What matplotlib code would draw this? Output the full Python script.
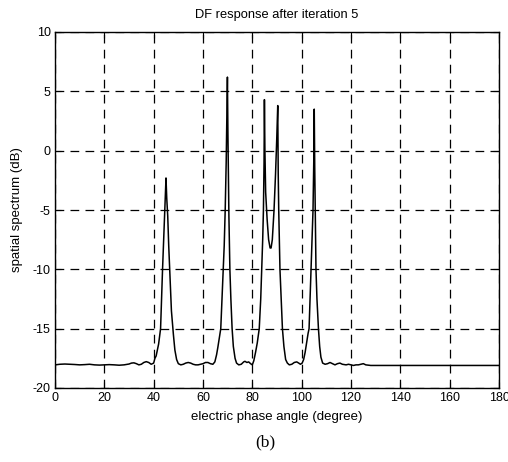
import matplotlib
matplotlib.use("Agg")
import matplotlib.pyplot as plt

plt.rcParams['font.family'] = ['Liberation Sans', 'DejaVu Sans']
plt.rcParams['axes.unicode_minus'] = False

title = "DF response after iteration 5"
xlabel = "electric phase angle (degree)"
ylabel = "spatial spectrum (dB)"
caption = "(b)"
xticks = [0, 20, 40, 60, 80, 100, 120, 140, 160, 180]
yticks = [-20, -15, -10, -5, 0, 5, 10]

angle = [0, 2, 4, 6, 8, 10, 12, 14, 16, 18, 20, 22, 24, 26, 28, 30, 31, 32, 33, 34,
         35, 36, 37, 38, 39, 40, 40.5, 41, 42, 42.8, 43.2, 43.6, 44.0, 44.5, 45.0,
         45.3, 45.7, 46.1, 46.6, 47.2, 48.0, 48.6, 49.3, 50.0, 51, 52, 53, 54, 55,
         56, 57, 58, 59, 60, 61, 62, 63, 64, 64.8, 65.5, 66.0, 66.6, 67.2, 67.7,
         68.2, 68.6, 69.0, 69.4, 69.9, 70.1, 70.3, 70.5, 70.9, 71.3, 71.8, 72.3,
         73.0, 73.6, 74.5, 75.5, 76.5, 77.0, 77.8, 78.5, 79.3, 80.0, 80.6, 81.3,
         82.0, 82.8, 83.4, 83.8, 84.2, 84.5, 84.75, 84.9, 85.1, 85.4, 85.6, 86.0,
         86.6, 87.2, 87.6, 88.1, 88.8, 89.4, 89.9, 90.3, 90.5, 90.7, 91.2, 91.7,
         92.2, 92.8, 93.5, 94.2, 95, 96, 97, 98, 98.8, 99.5, 100.2, 100.8, 101.4,
         102.0, 102.6, 103.0, 103.4, 103.8, 104.2, 104.6, 104.9, 105.1, 105.3,
         105.5, 105.8, 106.2, 106.8, 107.3, 107.8, 108.5, 109.5, 110.5, 111.5,
         112.5, 113.5, 114.5, 115.5, 116.5, 118, 119, 120, 121, 122, 123, 124, 125,
         126, 128, 130, 135, 140, 145, 150, 155, 160, 165, 170, 175, 180]
spectrum = [-18.05, -18.0, -17.98, -18.0, -18.02, -18.05, -18.03, -18.0, -18.05, -18.07,
            -18.05, -18.03, -18.05, -18.08, -18.05, -17.98, -17.9, -17.88, -17.95, -18.05,
            -18.0, -17.85, -17.78, -17.85, -18.0, -17.9, -17.5, -17.3, -16.3, -15.0, -12.5,
            -10.0, -7.8, -5.0, -2.3,
            -4.0, -5.5, -8.0, -10.5, -13.5, -15.5, -16.8, -17.6, -17.95, -18.05, -18.0,
            -17.9, -17.85, -17.9,
            -18.0, -18.05, -18.05, -18.0, -17.95, -17.85, -17.85, -17.95, -18.0, -17.8,
            -17.2, -16.6, -15.8, -15.0, -12.5,
            -10.0, -8.0, -5.0, -1.0, 6.2, 1.5, -2.0, -5.5, -10.0, -12.5, -15.0, -16.5,
            -17.5, -17.9, -18.05, -18.0, -17.8, -17.75, -17.85, -17.8, -17.95, -18.05,
            -17.7, -17.0,
            -16.2, -15.0, -12.5, -10.0, -7.5, -5.0, -1.0, 4.3, 0.0, -3.5, -4.3, -5.8,
            -7.5, -8.2, -8.2, -7.5, -5.0, -2.0, 1.0, 3.8, -2.0, -5.0, -10.0, -12.5,
            -15.0, -16.5, -17.6, -17.9, -18.05, -18.0, -17.85, -17.8, -17.9, -18.0,
            -17.9, -17.6, -17.0,
            -16.2, -15.4, -15.0, -12.5, -10.0, -7.5, -5.0, -1.0, 3.5, -1.5,
            -5.0, -10.0, -12.5, -15.0, -16.5, -17.4, -17.9, -18.0, -17.95, -17.85,
            -17.95, -18.05, -17.95, -17.9, -18.0, -18.05, -18.0, -18.05, -18.1, -18.05,
            -18.05, -18.0, -17.95,
            -18.05, -18.1, -18.1, -18.1, -18.1, -18.1, -18.1, -18.1, -18.1, -18.1,
            -18.1, -18.1, -18.1]

fig = plt.figure(figsize=(5.08, 4.62), dpi=100)
ax = fig.add_axes([55 / 508, 74 / 462, 444 / 508, 356 / 462])

ax.plot(angle, spectrum, color='black', lw=1.1)

ax.set_xlim(0, 180)
ax.set_ylim(-20, 10)
ax.set_xticks(xticks)
ax.set_yticks(yticks)
ax.tick_params(direction='in', length=4, width=0.8, top=True, right=True,
               labelsize=9, colors='black', pad=3)
ax.grid(True, color='black', linestyle=(0, (7, 5)), linewidth=0.9)
for s in ax.spines.values():
    s.set_linewidth(1.0)
    s.set_color('black')

ax.set_title(title, fontsize=9.3, pad=10)
ax.set_xlabel(xlabel, fontsize=9.5, labelpad=5)
ax.set_ylabel(ylabel, fontsize=9.5, labelpad=7)
fig.text(265 / 508, 1 - 442 / 462, caption, fontsize=12.5, family=['Liberation Serif', 'DejaVu Serif'],
         ha='center', va='center')

fig.savefig("out.png", dpi=100)
